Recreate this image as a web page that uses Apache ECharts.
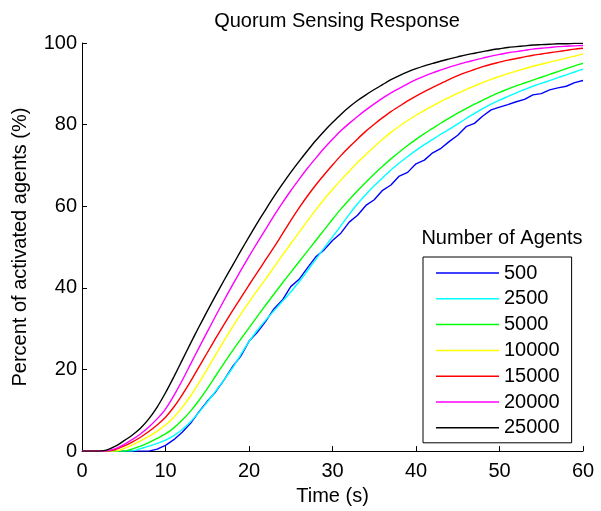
<!DOCTYPE html>
<html>
<head>
<meta charset="utf-8">
<script src="https://cdn.jsdelivr.net/npm/echarts@6/dist/echarts.min.js"></script>
<style>html,body{margin:0;padding:0;background:#fff;}#c{width:601px;height:511px;}</style>
</head>
<body>
<div id="c"></div>
<script>
var times = [0,1,2,3,4,5,6,7,8,9,10,11,12,13,14,15,16,17,18,19,20,21,22,23,24,25,26,27,28,29,30,31,32,33,34,35,36,37,38,39,40,41,42,43,44,45,46,47,48,49,50,51,52,53,54,55,56,57,58,59,60];
var seriesNames = ['500','2500','5000','10000','15000','20000','25000'];
var agents500 = [0,0,0,0,0,0,0,0,0,0.5,1.4,2.8,4.6,6.8,9.6,12.2,14.5,17.4,20.6,23.2,26.9,29.1,31.8,34.9,37,40.3,42.1,44.9,47.6,49.3,51.6,53.4,56.1,57.8,60.2,61.6,63.9,65.2,67.4,68.3,70.4,71.3,73.1,74.2,75.9,77.4,79.5,80.3,82.1,83.6,84.3,84.9,85.6,86.2,87.3,87.6,88.5,89,89.4,90.3,90.8];
var agents2500 = [0,0,0,0,0,0,0,0.6,1.2,1.9,2.7,3.8,5.3,7.2,9.5,12,14.7,17.4,20.3,23.6,26.8,29.6,32.1,34.4,36.7,39,41.5,44.2,47,49.8,52.5,55.2,58,60.6,62.9,65,67,68.9,70.6,72.2,73.7,75.1,76.4,77.7,78.9,80.2,81.5,82.7,83.9,85,86,86.9,87.8,88.6,89.4,90.1,90.8,91.5,92.2,92.9,93.6];
var agents5000 = [0,0,0,0,0,0,0.5,1.2,2.1,3.1,4.2,5.7,7.6,9.8,12.4,15.3,18.4,21.5,24.5,27.4,30.2,33,35.8,38.5,41.2,43.8,46.4,49,51.6,54.2,56.8,59.3,61.6,63.8,65.9,67.9,69.8,71.6,73.3,74.9,76.4,77.8,79.1,80.4,81.6,82.8,83.9,85,86,87,87.9,88.7,89.5,90.2,90.9,91.6,92.3,93,93.7,94.4,95];
var agents10000 = [0,0,0,0,0,0.6,1.5,2.5,3.6,4.9,6.4,8.3,10.7,13.5,16.7,20.1,23.6,27,30.3,33.5,36.5,39.4,42.2,45.1,48,50.8,53.6,56.4,59.1,61.7,64.1,66.4,68.6,70.7,72.7,74.6,76.4,78.1,79.6,81,82.3,83.5,84.6,85.7,86.7,87.7,88.6,89.5,90.3,91.1,91.8,92.5,93.1,93.7,94.3,94.8,95.3,95.8,96.3,96.8,97.3];
var agents15000 = [0,0,0,0,0.4,1.2,2.2,3.4,4.8,6.4,8.3,10.8,13.8,17.1,20.6,24.1,27.6,31,34.3,37.5,40.7,43.8,46.9,50,53.2,56.5,59.6,62.5,65.2,67.7,70.1,72.4,74.5,76.5,78.4,80.1,81.7,83.2,84.5,85.8,87,88.1,89.1,90.1,91.1,92,92.8,93.5,94.2,94.8,95.3,95.8,96.2,96.6,97,97.3,97.6,97.9,98.2,98.5,98.7];
var agents20000 = [0,0,0,0.1,0.6,1.6,2.8,4.2,5.9,7.9,10.3,13.6,17.3,21.3,25.3,29.2,33.1,36.9,40.6,44.2,47.7,51.1,54.4,57.7,60.8,63.8,66.6,69.3,71.8,74.2,76.4,78.5,80.3,82,83.6,85.1,86.5,87.8,88.9,90,91,91.9,92.7,93.4,94.1,94.7,95.3,95.8,96.3,96.8,97.2,97.6,97.9,98.2,98.5,98.7,98.9,99.1,99.2,99.3,99.4];
var agents25000 = [0,0,0,0.3,1.2,2.5,3.9,5.6,7.9,10.8,14.3,18.2,22.3,26.4,30.4,34.3,38.1,41.8,45.4,49,52.5,55.9,59.2,62.4,65.4,68.3,71,73.6,76.1,78.4,80.5,82.5,84.3,85.9,87.3,88.6,89.8,91,92,92.9,93.7,94.4,95,95.6,96.1,96.6,97.1,97.5,97.9,98.3,98.6,98.9,99.1,99.3,99.5,99.6,99.7,99.8,99.8,99.9,99.9];
var xTicks = [0,10,20,30,40,50,60];
var yTicks = [0,20,40,60,80,100];

var allData = [agents500, agents2500, agents5000, agents10000, agents15000, agents20000, agents25000];
var colors = ['#0000ff','#00ffff','#00ff00','#ffff00','#ff0000','#ff00ff','#000000'];
var FONT = '"Liberation Sans", Arial, Helvetica, sans-serif';

var series = seriesNames.map(function(name, i){
  return {
    name: name,
    type: 'line',
    symbol: 'none',
    showSymbol: false,
    smooth: i === 0 ? false : 0.25,
    animation: false,
    lineStyle: {color: colors[i], width: 1.4},
    itemStyle: {color: colors[i]},
    data: times.map(function(t, k){ return [t, allData[i][k]]; })
  };
});

var chart = echarts.init(document.getElementById('c'), null, {renderer: 'canvas'});
chart.setOption({
  backgroundColor: '#ffffff',
  animation: false,
  textStyle: {fontFamily: FONT},
  title: [
    {text: 'Quorum Sensing Response', left: 332, top: 6, textAlign: 'center',
     textStyle: {fontFamily: FONT, fontSize: 20, fontWeight: 'normal', color: '#000'}},
    {text: 'Number of Agents', left: 497, top: 223, textAlign: 'center',
     textStyle: {fontFamily: FONT, fontSize: 20, fontWeight: 'normal', color: '#000'}}
  ],
  grid: {left: 82, right: 18, top: 43, bottom: 55, containLabel: false},
  legend: {
    orient: 'vertical',
    left: 423,
    top: 257,
    padding: [6, 12, 5, 13],
    icon: 'rect',
    itemWidth: 63,
    itemHeight: 1.5,
    itemGap: 5.8,
    borderColor: '#000',
    borderWidth: 1,
    backgroundColor: '#fff',
    data: seriesNames,
    textStyle: {fontFamily: FONT, fontSize: 20, color: '#000', lineHeight: 20, height: 20}
  },
  xAxis: {
    type: 'value', min: 0, max: 60, interval: 10,
    name: 'Time (s)', nameLocation: 'middle', nameGap: 28,
    nameTextStyle: {fontFamily: FONT, fontSize: 20, color: '#000'},
    axisLine: {show: true, onZero: false, lineStyle: {color: '#000', width: 1}},
    axisTick: {show: true, inside: true, length: 5, lineStyle: {color: '#000'}},
    axisLabel: {fontFamily: FONT, fontSize: 20, color: '#000', margin: 10,
      formatter: function(v){ return xTicks.indexOf(v) >= 0 ? String(v) : ''; }},
    splitLine: {show: false}
  },
  yAxis: {
    type: 'value', min: 0, max: 100, interval: 20,
    name: 'Percent of activated agents (%)', nameLocation: 'middle', nameGap: 52,
    nameTextStyle: {fontFamily: FONT, fontSize: 20, color: '#000'},
    axisLine: {show: true, onZero: false, lineStyle: {color: '#000', width: 1}},
    axisTick: {show: true, inside: true, length: 5, lineStyle: {color: '#000'}},
    axisLabel: {fontFamily: FONT, fontSize: 20, color: '#000', margin: 5,
      formatter: function(v){ return yTicks.indexOf(v) >= 0 ? String(v) : ''; }},
    splitLine: {show: false}
  },
  series: series
});
</script>
</body>
</html>
